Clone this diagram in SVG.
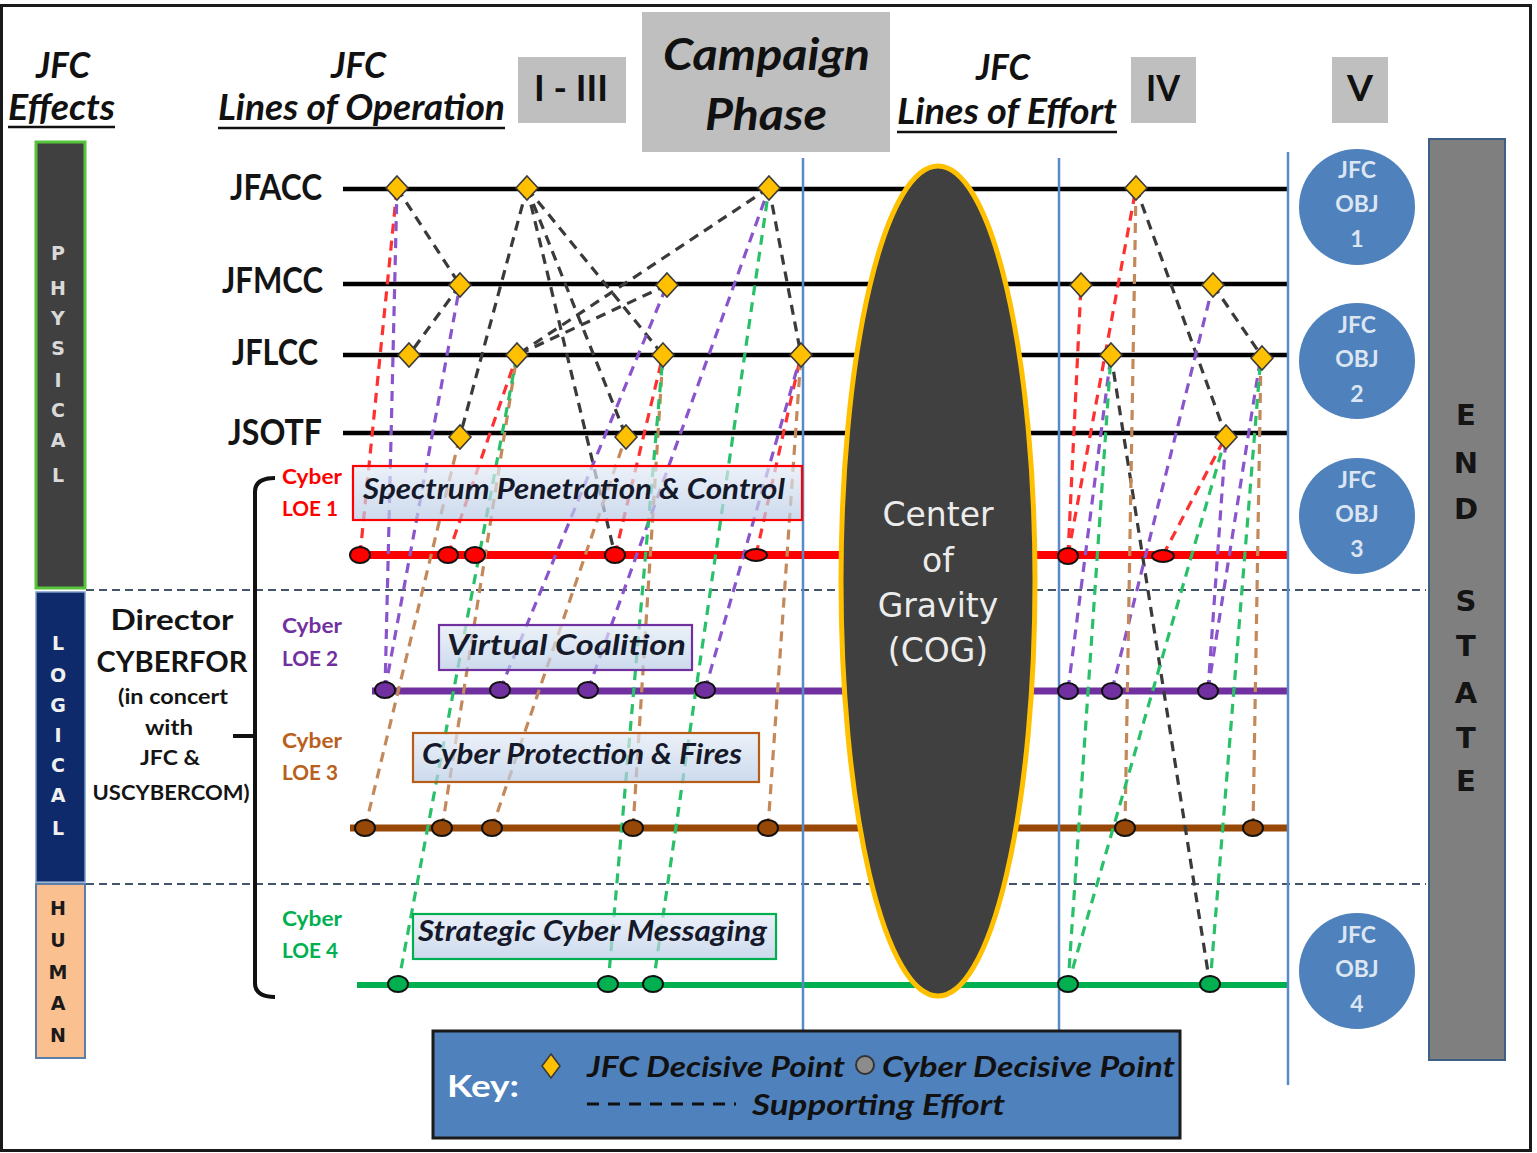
<svg xmlns="http://www.w3.org/2000/svg" width="1537" height="1153" viewBox="0 0 1537 1153">
  <defs>
    <linearGradient id="boxFill" x1="0" y1="0" x2="0" y2="1">
      <stop offset="0" stop-color="#e3ebf6"/>
      <stop offset="1" stop-color="#b8cbe6"/>
    </linearGradient>
    <style>
      .hdr { font-family: Lato, "Liberation Sans", sans-serif; font-weight: bold; font-style: italic; fill: #111; }
      .rom { font-family: Lato, "Liberation Sans", sans-serif; font-weight: bold; fill: #111; }
      .ul { stroke: #111; stroke-width: 2.5; }
      .phase { fill: #bfbfbf; }
      .vert { font-family: "DejaVu Sans", Verdana, sans-serif; font-weight: bold; text-anchor: middle; }
      .row { stroke: #000; stroke-width: 4.5; }
      .rowlbl { font-family: Lato, "Liberation Sans", sans-serif; font-weight: bold; font-size: 36px; fill: #141414; }
      .sep { stroke: #44546a; stroke-width: 2; stroke-dasharray: 8 5; }
      .phaseline { stroke: #5a8ac6; stroke-width: 2.5; }
      .sup { fill: none; stroke-width: 3.2; stroke-dasharray: 10 7; }
      .k { stroke: #3a3a3a; }
      .r { stroke: #ff3030; }
      .p { stroke: #8a55cc; }
      .b { stroke: #c4895a; }
      .g { stroke: #28c068; }
      .dp { fill: #ffc000; stroke: #3a3a3a; stroke-width: 1.6; }
      .cdp { stroke: #111; stroke-width: 2; }
      .loebox { fill: url(#boxFill); fill-opacity: 0.7; stroke-width: 2.2; }
      .loetxt { font-family: Lato, "Liberation Sans", sans-serif; font-weight: bold; font-style: italic; font-size: 29px; fill: #15192a; }
      .cyb { font-family: Lato, "Liberation Sans", sans-serif; font-size: 21px; font-weight: bold; }
      .obj { fill: #4f81bd; }
      .objtxt { font-family: Lato, "Liberation Sans", sans-serif; font-weight: bold; font-size: 23px; fill: #dce6f2; text-anchor: middle; }
      .cog { font-family: "DejaVu Sans", Verdana, sans-serif; font-size: 33px; fill: #ececec; text-anchor: middle; }
      .dir { font-family: Lato, "Liberation Sans", sans-serif; font-weight: bold; fill: #141414; text-anchor: middle; }
    </style>
  </defs>

  <rect x="0" y="0" width="1537" height="1153" fill="#ffffff"/>
  <rect x="1.5" y="5.5" width="1529" height="1145" fill="none" stroke="#1a1a1a" stroke-width="3"/>

  <!-- column headings -->
  <g id="headings">
    <text class="hdr" x="36" y="78" font-size="36" textLength="54" lengthAdjust="spacingAndGlyphs">JFC</text>
    <text class="hdr" x="8" y="120" font-size="36" textLength="107" lengthAdjust="spacingAndGlyphs">Effects</text>
    <line class="ul" x1="8" y1="127" x2="115" y2="127"/>
    <text class="hdr" x="331" y="78" font-size="36" textLength="55" lengthAdjust="spacingAndGlyphs">JFC</text>
    <text class="hdr" x="218" y="120" font-size="36" textLength="287" lengthAdjust="spacingAndGlyphs">Lines of Operation</text>
    <line class="ul" x1="218" y1="128" x2="505" y2="128"/>
    <text class="hdr" x="976" y="80" font-size="36" textLength="54" lengthAdjust="spacingAndGlyphs">JFC</text>
    <text class="hdr" x="897" y="124" font-size="36" textLength="220" lengthAdjust="spacingAndGlyphs">Lines of Effort</text>
    <line class="ul" x1="897" y1="132" x2="1117" y2="132"/>
  </g>

  <g id="phase-1-3">
    <rect class="phase" x="518" y="57" width="108" height="66"/>
    <text class="rom" x="534" y="101" font-size="36" textLength="74" lengthAdjust="spacingAndGlyphs">I - III</text>
  </g>
  <g id="campaign-phase">
    <rect class="phase" x="642" y="12" width="248" height="140"/>
    <text class="hdr" x="663" y="70" font-size="44" textLength="207" lengthAdjust="spacingAndGlyphs">Campaign</text>
    <text class="hdr" x="705" y="130" font-size="44" textLength="122" lengthAdjust="spacingAndGlyphs">Phase</text>
  </g>
  <g id="phase-4">
    <rect class="phase" x="1131" y="57" width="65" height="66"/>
    <text class="rom" x="1146" y="101" font-size="36" textLength="34" lengthAdjust="spacingAndGlyphs">IV</text>
  </g>
  <g id="phase-5">
    <rect class="phase" x="1332" y="57" width="56" height="66"/>
    <text class="rom" x="1347" y="101" font-size="36" textLength="26" lengthAdjust="spacingAndGlyphs">V</text>
  </g>

  <!-- effect domains -->
  <g id="physical">
    <rect x="36" y="142" width="49" height="446" fill="#404040" stroke="#56c43a" stroke-width="3"/>
    <g class="vert" font-size="19" fill="#d9d9d9">
      <text x="58" y="260">P</text><text x="58" y="295">H</text><text x="58" y="325">Y</text>
      <text x="58" y="355">S</text><text x="58" y="387">I</text><text x="58" y="417">C</text>
      <text x="58" y="447">A</text><text x="58" y="482">L</text>
    </g>
  </g>
  <g id="logical">
    <rect x="36" y="592" width="49" height="290" fill="#0e2a6a" stroke="#7d9bc8" stroke-width="1.5"/>
    <g class="vert" font-size="19" fill="#f0f0f0">
      <text x="58" y="650">L</text><text x="58" y="682">O</text><text x="58" y="712">G</text>
      <text x="58" y="742">I</text><text x="58" y="772">C</text><text x="58" y="802">A</text>
      <text x="58" y="835">L</text>
    </g>
  </g>
  <g id="human">
    <rect x="36" y="884" width="49" height="174" fill="#fac08f" stroke="#5b7fa6" stroke-width="2"/>
    <g class="vert" font-size="19" fill="#1a1a1a">
      <text x="58" y="915">H</text><text x="58" y="947">U</text><text x="58" y="979">M</text>
      <text x="58" y="1010">A</text><text x="58" y="1042">N</text>
    </g>
  </g>

  <!-- domain separators -->
  <line class="sep" x1="86" y1="590" x2="1426" y2="590"/>
  <line class="sep" x1="86" y1="884" x2="1426" y2="884"/>

  <!-- component lines of operation -->
  <g id="lines-of-operation">
    <line class="row" x1="343" y1="189" x2="1287" y2="189"/>
    <line class="row" x1="343" y1="284" x2="1287" y2="284"/>
    <line class="row" x1="343" y1="355" x2="1287" y2="355"/>
    <line class="row" x1="343" y1="433" x2="1287" y2="433"/>
    <line x1="352" y1="555" x2="1287" y2="555" stroke="#ff0000" stroke-width="8"/>
    <line x1="372" y1="691" x2="1287" y2="691" stroke="#7030a0" stroke-width="7"/>
    <line x1="350" y1="828" x2="1287" y2="828" stroke="#974706" stroke-width="7"/>
    <line x1="357" y1="985" x2="1287" y2="985" stroke="#00b050" stroke-width="6"/>
  </g>

  <!-- phase boundaries -->
  <g id="phase-boundaries">
    <line class="phaseline" x1="803" y1="158" x2="803" y2="1030"/>
    <line class="phaseline" x1="1059" y1="158" x2="1059" y2="1030"/>
    <line class="phaseline" x1="1288" y1="152" x2="1288" y2="1085"/>
  </g>

  <g id="row-labels">
    <text class="rowlbl" x="230" y="200" textLength="92" lengthAdjust="spacingAndGlyphs">JFACC</text>
    <text class="rowlbl" x="222" y="293" textLength="101" lengthAdjust="spacingAndGlyphs">JFMCC</text>
    <text class="rowlbl" x="232" y="365" textLength="86" lengthAdjust="spacingAndGlyphs">JFLCC</text>
    <text class="rowlbl" x="228" y="445" textLength="94" lengthAdjust="spacingAndGlyphs">JSOTF</text>
  </g>

  <!-- center of gravity -->
  <g id="cog">
    <ellipse cx="938" cy="581" rx="97" ry="415" fill="#404040" stroke="#ffc000" stroke-width="5"/>
    <text class="cog" x="938" y="526">Center</text>
    <text class="cog" x="938" y="572">of</text>
    <text class="cog" x="938" y="617">Gravity</text>
    <text class="cog" x="938" y="662">(COG)</text>
  </g>

  <!-- supporting efforts -->
  <g id="connectors" class="sup">
    <g class="k">
      <line x1="397" y1="188" x2="460" y2="285"/>
      <line x1="460" y1="285" x2="409" y2="355"/>
      <line x1="527" y1="188" x2="460" y2="436"/>
      <line x1="527" y1="188" x2="663" y2="355"/>
      <line x1="527" y1="188" x2="626" y2="436"/>
      <line x1="527" y1="188" x2="615" y2="555"/>
      <line x1="769" y1="188" x2="517" y2="355"/>
      <line x1="667" y1="285" x2="517" y2="355"/>
      <line x1="769" y1="188" x2="801" y2="355"/>
      <line x1="1136" y1="188" x2="1226" y2="436"/>
      <line x1="1213" y1="285" x2="1261" y2="355"/>
      <line x1="1111" y1="355" x2="1210" y2="985"/>
    </g>
    <g class="r">
      <line x1="360" y1="555" x2="397" y2="188"/>
      <line x1="448" y1="555" x2="517" y2="355"/>
      <line x1="615" y1="555" x2="663" y2="355"/>
      <line x1="756" y1="555" x2="801" y2="355"/>
      <line x1="1068" y1="555" x2="1136" y2="188"/>
      <line x1="1068" y1="555" x2="1081" y2="285"/>
      <line x1="1163" y1="555" x2="1226" y2="436"/>
    </g>
    <g class="p">
      <line x1="385" y1="690" x2="397" y2="188"/>
      <line x1="385" y1="690" x2="460" y2="285"/>
      <line x1="500" y1="690" x2="667" y2="285"/>
      <line x1="588" y1="690" x2="769" y2="188"/>
      <line x1="705" y1="690" x2="801" y2="355"/>
      <line x1="1068" y1="690" x2="1111" y2="355"/>
      <line x1="1112" y1="690" x2="1213" y2="285"/>
      <line x1="1208" y1="690" x2="1226" y2="436"/>
      <line x1="1208" y1="690" x2="1261" y2="355"/>
    </g>
    <g class="b">
      <line x1="365" y1="828" x2="460" y2="436"/>
      <line x1="442" y1="828" x2="517" y2="355"/>
      <line x1="492" y1="828" x2="626" y2="436"/>
      <line x1="633" y1="828" x2="663" y2="355"/>
      <line x1="768" y1="828" x2="801" y2="355"/>
      <line x1="1125" y1="828" x2="1136" y2="188"/>
      <line x1="1253" y1="828" x2="1261" y2="355"/>
    </g>
    <g class="g">
      <line x1="398" y1="985" x2="517" y2="355"/>
      <line x1="608" y1="985" x2="663" y2="355"/>
      <line x1="653" y1="985" x2="769" y2="188"/>
      <line x1="1068" y1="985" x2="1111" y2="355"/>
      <line x1="1068" y1="985" x2="1226" y2="436"/>
      <line x1="1210" y1="985" x2="1261" y2="355"/>
    </g>
  </g>

  <!-- cyber lines of effort -->
  <g id="loe1-box">
    <rect class="loebox" x="353" y="466" width="449" height="54" stroke="#ff0000"/>
    <text class="loetxt" x="363" y="499" textLength="422" lengthAdjust="spacingAndGlyphs">Spectrum Penetration  &amp; Control</text>
  </g>
  <g id="loe2-box">
    <rect class="loebox" x="439" y="625" width="253" height="45" stroke="#7030a0"/>
    <text class="loetxt" x="447" y="655" textLength="239" lengthAdjust="spacingAndGlyphs">Virtual Coalition</text>
  </g>
  <g id="loe3-box">
    <rect class="loebox" x="413" y="733" width="346" height="49" stroke="#b85c1a"/>
    <text class="loetxt" x="422" y="764" textLength="320" lengthAdjust="spacingAndGlyphs">Cyber Protection  &amp; Fires</text>
  </g>
  <g id="loe4-box">
    <rect class="loebox" x="413" y="914" width="363" height="45" stroke="#00b050"/>
    <text class="loetxt" x="418" y="941" textLength="349" lengthAdjust="spacingAndGlyphs">Strategic Cyber Messaging</text>
  </g>

  <g id="loe-labels" class="cyb">
    <text x="282" y="484" fill="#ff0000" textLength="60" lengthAdjust="spacingAndGlyphs">Cyber</text>
    <text x="282" y="516" fill="#ff0000" textLength="56" lengthAdjust="spacingAndGlyphs">LOE 1</text>
    <text x="282" y="633" fill="#7030a0" textLength="60" lengthAdjust="spacingAndGlyphs">Cyber</text>
    <text x="282" y="666" fill="#7030a0" textLength="56" lengthAdjust="spacingAndGlyphs">LOE 2</text>
    <text x="282" y="748" fill="#b8601c" textLength="60" lengthAdjust="spacingAndGlyphs">Cyber</text>
    <text x="282" y="780" fill="#b8601c" textLength="56" lengthAdjust="spacingAndGlyphs">LOE 3</text>
    <text x="282" y="926" fill="#00b050" textLength="60" lengthAdjust="spacingAndGlyphs">Cyber</text>
    <text x="282" y="958" fill="#00b050" textLength="56" lengthAdjust="spacingAndGlyphs">LOE 4</text>
  </g>

  <!-- JFC decisive points -->
  <g id="jfc-decisive-points">
    <polygon class="dp" points="397,176 408,188 397,200 386,188"/>
    <polygon class="dp" points="527,176 538,188 527,200 516,188"/>
    <polygon class="dp" points="769,176 780,188 769,200 758,188"/>
    <polygon class="dp" points="1136,176 1147,188 1136,200 1125,188"/>
    <polygon class="dp" points="460,273 471,285 460,297 449,285"/>
    <polygon class="dp" points="667,273 678,285 667,297 656,285"/>
    <polygon class="dp" points="1081,273 1092,285 1081,297 1070,285"/>
    <polygon class="dp" points="1213,273 1224,285 1213,297 1202,285"/>
    <polygon class="dp" points="409,343 420,355 409,367 398,355"/>
    <polygon class="dp" points="517,343 528,355 517,367 506,355"/>
    <polygon class="dp" points="663,343 674,355 663,367 652,355"/>
    <polygon class="dp" points="801,343 812,355 801,367 790,355"/>
    <polygon class="dp" points="1111,343 1122,355 1111,367 1100,355"/>
    <polygon class="dp" points="1262,346 1273,358 1262,370 1251,358"/>
    <polygon class="dp" points="460,425 471,437 460,449 449,437"/>
    <polygon class="dp" points="626,425 637,437 626,449 615,437"/>
    <polygon class="dp" points="1226,425 1237,437 1226,449 1215,437"/>
  </g>

  <!-- cyber decisive points -->
  <g id="cyber-decisive-points" class="cdp">
    <g fill="#ff0000">
      <ellipse cx="360" cy="555" rx="10" ry="8"/>
      <ellipse cx="448" cy="555" rx="10" ry="8"/>
      <ellipse cx="475" cy="555" rx="10" ry="8"/>
      <ellipse cx="615" cy="555" rx="10" ry="8"/>
      <ellipse cx="756" cy="555" rx="11" ry="6"/>
      <ellipse cx="1068" cy="556" rx="10" ry="8"/>
      <ellipse cx="1163" cy="556" rx="11" ry="6"/>
    </g>
    <g fill="#7030a0">
      <ellipse cx="385" cy="690" rx="10" ry="8"/>
      <ellipse cx="500" cy="690" rx="10" ry="8"/>
      <ellipse cx="588" cy="690" rx="10" ry="8"/>
      <ellipse cx="705" cy="690" rx="10" ry="8"/>
      <ellipse cx="1068" cy="691" rx="10" ry="8"/>
      <ellipse cx="1112" cy="691" rx="10" ry="8"/>
      <ellipse cx="1208" cy="691" rx="10" ry="8"/>
    </g>
    <g fill="#974706">
      <ellipse cx="365" cy="828" rx="10" ry="8"/>
      <ellipse cx="442" cy="828" rx="10" ry="8"/>
      <ellipse cx="492" cy="828" rx="10" ry="8"/>
      <ellipse cx="633" cy="828" rx="10" ry="8"/>
      <ellipse cx="768" cy="828" rx="10" ry="8"/>
      <ellipse cx="1125" cy="828" rx="10" ry="8"/>
      <ellipse cx="1253" cy="828" rx="10" ry="8"/>
    </g>
    <g fill="#00b050">
      <ellipse cx="398" cy="984" rx="10" ry="8"/>
      <ellipse cx="608" cy="984" rx="10" ry="8"/>
      <ellipse cx="653" cy="984" rx="10" ry="8"/>
      <ellipse cx="1068" cy="984" rx="10" ry="8"/>
      <ellipse cx="1210" cy="984" rx="10" ry="8"/>
    </g>
  </g>

  <!-- cyber force command bracket -->
  <g id="cyberfor">
    <path d="M275,478 Q255,478 255,492 L255,983 Q255,997 275,997 M233,736 L255,736" fill="none" stroke="#111" stroke-width="4"/>
    <text class="dir" x="172" y="630" font-size="29" textLength="123" lengthAdjust="spacingAndGlyphs">Director</text>
    <text class="dir" x="172" y="672" font-size="29" textLength="151" lengthAdjust="spacingAndGlyphs">CYBERFOR</text>
    <text class="dir" x="173" y="704" font-size="21" textLength="110" lengthAdjust="spacingAndGlyphs">(in concert</text>
    <text class="dir" x="169" y="735" font-size="21" textLength="48" lengthAdjust="spacingAndGlyphs">with</text>
    <text class="dir" x="170" y="765" font-size="21" textLength="60" lengthAdjust="spacingAndGlyphs">JFC &amp;</text>
    <text class="dir" x="171" y="800" font-size="21" textLength="157" lengthAdjust="spacingAndGlyphs">USCYBERCOM)</text>
  </g>

  <!-- JFC objectives -->
  <g id="obj1">
    <circle class="obj" cx="1357" cy="207" r="58"/>
    <text class="objtxt" x="1357" y="178">JFC</text>
    <text class="objtxt" x="1357" y="212">OBJ</text>
    <text class="objtxt" x="1357" y="247">1</text>
  </g>
  <g id="obj2">
    <circle class="obj" cx="1357" cy="361" r="58"/>
    <text class="objtxt" x="1357" y="333">JFC</text>
    <text class="objtxt" x="1357" y="367">OBJ</text>
    <text class="objtxt" x="1357" y="402">2</text>
  </g>
  <g id="obj3">
    <circle class="obj" cx="1357" cy="516" r="58"/>
    <text class="objtxt" x="1357" y="488">JFC</text>
    <text class="objtxt" x="1357" y="522">OBJ</text>
    <text class="objtxt" x="1357" y="557">3</text>
  </g>
  <g id="obj4">
    <circle class="obj" cx="1357" cy="971" r="58"/>
    <text class="objtxt" x="1357" y="943">JFC</text>
    <text class="objtxt" x="1357" y="977">OBJ</text>
    <text class="objtxt" x="1357" y="1012">4</text>
  </g>

  <!-- end state -->
  <g id="end-state">
    <rect x="1429" y="139" width="76" height="921" fill="#7f7f7f" stroke="#3d5f86" stroke-width="2"/>
    <g class="vert" font-size="29" fill="#141414">
      <text x="1466" y="425">E</text><text x="1466" y="473">N</text><text x="1466" y="519">D</text>
      <text x="1466" y="611">S</text><text x="1466" y="656">T</text><text x="1466" y="703">A</text>
      <text x="1466" y="748">T</text><text x="1466" y="791">E</text>
    </g>
  </g>

  <!-- legend -->
  <g id="key">
    <rect x="433" y="1031" width="747" height="107" fill="#4f81bd" stroke="#1a1a1a" stroke-width="3"/>
    <text x="447" y="1097" font-family="Lato, 'Liberation Sans', sans-serif" font-weight="bold" font-size="31" fill="#ffffff" textLength="72" lengthAdjust="spacingAndGlyphs">Key:</text>
    <polygon class="dp" points="551,1054 560,1066 551,1078 542,1066"/>
    <text class="hdr" x="587" y="1077" font-size="29" textLength="258" lengthAdjust="spacingAndGlyphs">JFC Decisive Point</text>
    <circle cx="865" cy="1065" r="9" fill="#8c8c8c" stroke="#333" stroke-width="2"/>
    <text class="hdr" x="882" y="1077" font-size="29" textLength="293" lengthAdjust="spacingAndGlyphs">Cyber Decisive Point</text>
    <line x1="587" y1="1104" x2="736" y2="1104" stroke="#111" stroke-width="3" stroke-dasharray="12 9"/>
    <text class="hdr" x="752" y="1115" font-size="29" textLength="253" lengthAdjust="spacingAndGlyphs">Supporting Effort</text>
  </g>
</svg>
